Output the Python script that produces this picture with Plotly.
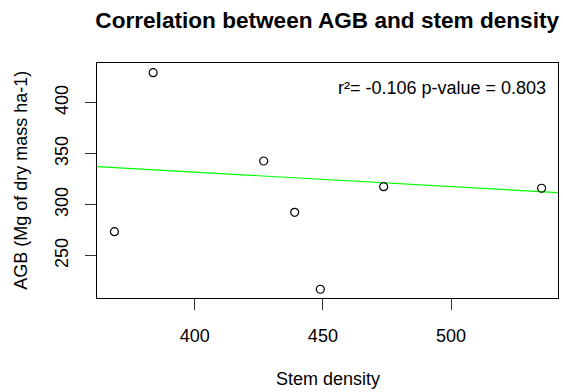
import plotly.graph_objects as go

# Data
stem_density = [368.7, 383.8, 426.9, 439.0, 449.0, 473.7, 535.3]
agb = [273.5, 429.4, 342.8, 292.5, 217.1, 317.6, 316.1]

# Fitted line (intercept, slope) as drawn in the reference
fit_intercept = 388.6
fit_slope = -0.1418

x_ticks = [400, 450, 500]
y_ticks = [250, 300, 350, 400]

x_range = [361.9, 541.7]
y_range = [208.5, 438.9]

FONT = "Liberation Sans, Arial, sans-serif"

line_x = [x_range[0] - 20, x_range[1] + 20]
line_y = [fit_intercept + fit_slope * v for v in line_x]

fig = go.Figure()
fig.add_trace(go.Scatter(
    x=line_x, y=line_y, mode="lines",
    line=dict(color="#00FF00", width=1.2),
    showlegend=False, hoverinfo="skip",
))
fig.add_trace(go.Scatter(
    x=stem_density, y=agb, mode="markers",
    marker=dict(symbol="circle-open", size=8, color="black",
                line=dict(color="black", width=1.2)),
    showlegend=False, cliponaxis=False,
))

W, H = 563, 392
L, R, T, B = 96.7, 5.3, 63, 94
ph = H - T - B
pw = W - L - R

fig.update_layout(
    width=W, height=H,
    margin=dict(l=L, r=R, t=T, b=B),
    paper_bgcolor="white", plot_bgcolor="white",
    font=dict(family=FONT, size=18, color="black"),
    title=dict(text="<b>Correlation between AGB and stem density</b>",
               x=(L + pw / 2) / W, xanchor="center",
               y=1 - 20 / H, yanchor="middle",
               font=dict(family=FONT, size=22.6, color="black")),
    xaxis=dict(range=x_range, tickvals=x_ticks, ticks="outside", ticklen=11,
               tickcolor="#333", showgrid=False, zeroline=False,
               showline=True, linecolor="black", linewidth=1, mirror=True,
               ticklabelstandoff=10, tickfont=dict(size=18)),
    yaxis=dict(range=y_range, tickvals=y_ticks, ticks="outside", ticklen=11,
               tickcolor="#333", showgrid=False, zeroline=False,
               showline=True, linecolor="black", linewidth=1, mirror=True,
               tickangle=-90, ticklabelstandoff=10, tickfont=dict(size=18)),
    annotations=[
        dict(text="Stem density", xref="paper", yref="paper",
             x=0.5, y=(T + ph - 379) / ph, xanchor="center", yanchor="middle",
             showarrow=False, font=dict(size=18)),
        dict(text="AGB (Mg of dry mass ha-1)", xref="paper", yref="paper",
             x=(20 - L) / pw, y=0.5, xanchor="center", yanchor="middle",
             textangle=-90, showarrow=False, font=dict(size=18)),
        dict(text="r²= -0.106 p-value = 0.803", xref="paper", yref="paper",
             x=(548 - L) / pw, y=(T + ph - 88) / ph, xanchor="right",
             yanchor="middle", showarrow=False, font=dict(size=18)),
    ],
)

fig.write_html("out.html")
